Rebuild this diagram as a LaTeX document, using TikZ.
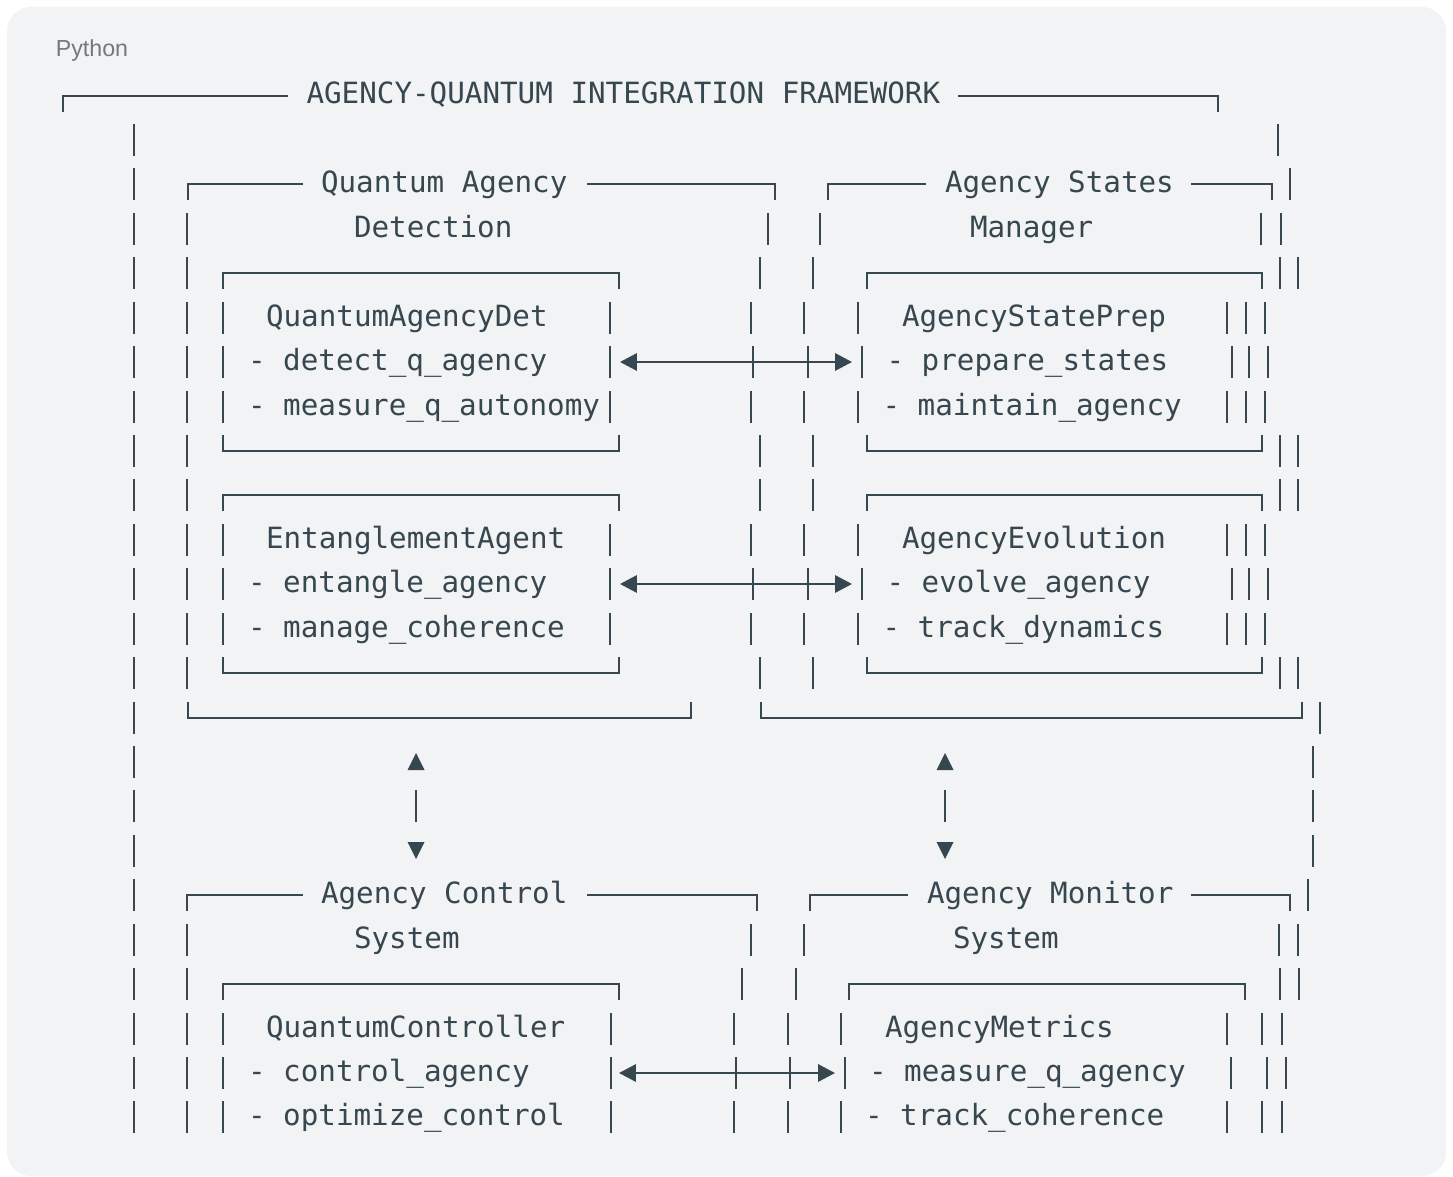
\documentclass[tikz,border=0pt]{standalone}
\usepackage{fontspec}
\setmainfont{Liberation Sans}
\newfontfamily\codefont{DejaVu Sans Mono}
\usetikzlibrary{arrows.meta}
\definecolor{ink}{HTML}{37474F}
\definecolor{bgpanel}{HTML}{F1F3F5}
\definecolor{lbl}{HTML}{777777}
\newcommand\asciibars[2]{\foreach \xx in {#2}{\draw[ln] (\xx,#1) ++(0,-16) -- ++(0,32);}}
\newcommand\asciitop[3]{\draw[ln] (#1,#3) ++(0,16) -- (#1,#3) -- (#2,#3) -- ++(0,16);}
\newcommand\asciibot[3]{\draw[ln] (#1,#3) ++(0,-16) -- (#1,#3) -- (#2,#3) -- ++(0,-16);}
\begin{document}
\begin{tikzpicture}[x=0.5pt,y=-0.5pt,
  ln/.style={draw=ink,line width=1pt,line cap=butt},
  txt/.style={anchor=base west,inner sep=0pt,outer sep=0pt,text=ink,font=\codefont\fontsize{14.62}{16}\selectfont},
  biarrow/.style={ln,{Triangle[length=8.4pt,width=8.6pt]}-{Triangle[length=8.4pt,width=8.6pt]}},
  tri/.style={fill=ink,draw=none}]
\useasboundingbox (0,0) rectangle (1453,1177);
\fill[white] (0,0) rectangle (1453,1177);
\fill[bgpanel,rounded corners=12pt] (7,7) rectangle (1446,1176);
\node[anchor=base west,inner sep=0pt,text=lbl,font=\fontsize{11.6}{13}\selectfont] (lang) at (55.5,56.5) {Python};

% row 1
\draw[ln] (63,112) -- (63,96) -- (288,96);
\draw[ln] (958,96) -- (1218,96) -- (1218,112);
\node[txt] (title) at (306.5,104) {AGENCY-QUANTUM INTEGRATION FRAMEWORK};
% row 2
\asciibars{140}{134,1278}
% row 3
\asciibars{184}{134,1290}
\draw[ln] (188,200) -- (188,184) -- (303,184);
\draw[ln] (587,184) -- (775,184) -- (775,200);
\draw[ln] (828,200) -- (828,184) -- (926,184);
\draw[ln] (1191,184) -- (1272,184) -- (1272,200);
\node[txt] (qa) at (321,192) {Quantum Agency};
\node[txt] (ast) at (945,192) {Agency States};
% row 4
\asciibars{229}{134,187,768,820,1261,1281}
\node[txt] (det) at (354,237) {Detection};
\node[txt] (mgr) at (970,237) {Manager};
% row 5
\asciibars{273}{134,187,760,813,1280,1298}
\asciitop{223}{619}{273}
\asciitop{867}{1262}{273}
% row 6
\asciibars{318}{134,187,223,610,751,804,858,1227,1246,1265}
\node[txt] (qad) at (266,326) {QuantumAgencyDet};
\node[txt] (asp) at (902,326) {AgencyStatePrep};
% row 7
\asciibars{362}{134,187,223,610,753,808,862,1232,1249,1268}
\coordinate (a7l) at (620,362);
\coordinate (a7r) at (852,362);
\draw[biarrow] (a7l) -- (a7r);
\node[txt] (qad1) at (248,370) {- detect\_q\_agency};
\node[txt] (asp1) at (886.5,370) {- prepare\_states};
% row 8
\asciibars{407}{134,187,223,610,751,804,858,1227,1246,1265}
\node[txt] (qad2) at (248,415) {- measure\_q\_autonomy};
\node[txt] (asp2) at (882.5,415) {- maintain\_agency};
% row 9
\asciibars{451}{134,187,760,813,1280,1298}
\asciibot{223}{619}{451}
\asciibot{867}{1262}{451}
% row 10
\asciibars{495}{134,187,760,813,1280,1298}
\asciitop{223}{619}{495}
\asciitop{867}{1262}{495}
% row 11
\asciibars{540}{134,187,223,610,751,804,858,1227,1246,1265}
\node[txt] (ea) at (266,548) {EntanglementAgent};
\node[txt] (aev) at (902,548) {AgencyEvolution};
% row 12
\asciibars{584}{134,187,223,610,753,808,862,1232,1249,1268}
\coordinate (a12l) at (620,584);
\coordinate (a12r) at (852,584);
\draw[biarrow] (a12l) -- (a12r);
\node[txt] (ea1) at (248,592) {- entangle\_agency};
\node[txt] (aev1) at (886.5,592) {- evolve\_agency};
% row 13
\asciibars{629}{134,187,223,610,751,804,858,1227,1246,1265}
\node[txt] (ea2) at (248,637) {- manage\_coherence};
\node[txt] (aev2) at (882.5,637) {- track\_dynamics};
% row 14
\asciibars{673}{134,187,760,813,1280,1298}
\asciibot{223}{619}{673}
\asciibot{867}{1262}{673}
% row 15
\asciibars{718}{134,1320}
\asciibot{188}{691}{718}
\asciibot{761}{1302}{718}
% rows 16-18
\asciibars{762}{134,1313}
\asciibars{806}{134,1313,416,945}
\asciibars{851}{134,1313}
\foreach \tx in {416,945}{
  \fill[tri] (\tx-8.5,770) -- (\tx+8.5,770) -- (\tx,753) -- cycle;
  \fill[tri] (\tx-8.5,842) -- (\tx+8.5,842) -- (\tx,859) -- cycle;
}
% row 19
\asciibars{895}{134,1308}
\draw[ln] (187,911) -- (187,895) -- (303,895);
\draw[ln] (587,895) -- (757,895) -- (757,911);
\draw[ln] (810,911) -- (810,895) -- (908,895);
\draw[ln] (1191,895) -- (1290,895) -- (1290,911);
\node[txt] (acs) at (321,903) {Agency Control};
\node[txt] (ams) at (927,903) {Agency Monitor};
% row 20
\asciibars{940}{134,187,751,804,1279,1298}
\node[txt] (sys1) at (354,948) {System};
\node[txt] (sys2) at (953,948) {System};
% row 21
\asciibars{984}{134,187,742,796,1280,1299}
\asciitop{223}{619}{984}
\asciitop{849}{1245}{984}
% row 22
\asciibars{1029}{134,187,223,611,734,788,841,1227,1262,1282}
\node[txt] (qc) at (266,1037) {QuantumController};
\node[txt] (am) at (885,1037) {AgencyMetrics};
% row 23
\asciibars{1073}{134,187,223,611,736,790,845,1231,1267,1286}
\coordinate (a23l) at (619,1073);
\coordinate (a23r) at (835,1073);
\draw[biarrow] (a23l) -- (a23r);
\node[txt] (qc1) at (248,1081) {- control\_agency};
\node[txt] (am1) at (869,1081) {- measure\_q\_agency};
% row 24
\asciibars{1117}{134,187,223,611,734,788,841,1227,1262,1282}
\node[txt] (qc2) at (248,1125) {- optimize\_control};
\node[txt] (am2) at (865,1125) {- track\_coherence};
\end{tikzpicture}
\end{document}
